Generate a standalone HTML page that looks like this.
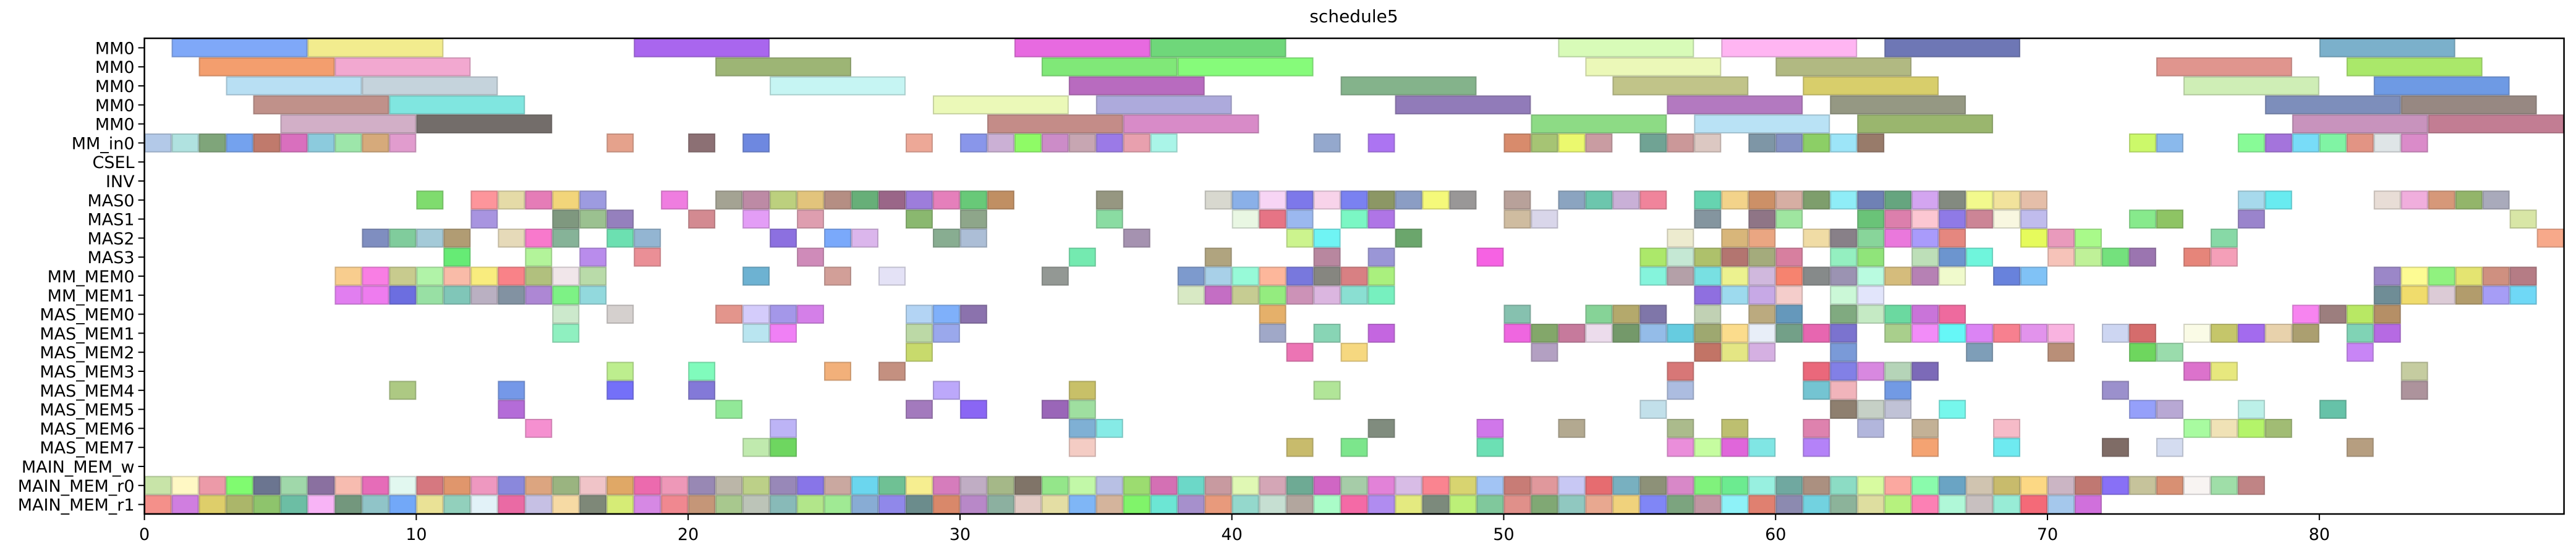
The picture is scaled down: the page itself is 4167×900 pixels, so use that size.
<!DOCTYPE html>
<html><head><meta charset="utf-8"><title>schedule5</title>
<style>
html,body{margin:0;padding:0;background:#fff;}
svg{display:block;font-family:"DejaVu Sans","Liberation Sans",sans-serif;}
</style></head>
<body>
<svg id="chart" width="4167" height="900" viewBox="0 0 4167 900" xmlns="http://www.w3.org/2000/svg">
<text x="2190" y="36" font-size="28" text-anchor="middle" fill="#000">schedule5</text>
<g id="bars"></g>
<g id="yaxis"></g>
<g id="xaxis"></g>
<rect x="233.6" y="62" width="3914" height="770" fill="none" stroke="#000" stroke-width="2.5"/>
</svg>
<script>
const rowNames = ["MM0","MM0","MM0","MM0","MM0","MM_in0","CSEL","INV","MAS0","MAS1","MAS2","MAS3","MM_MEM0","MM_MEM1","MAS_MEM0","MAS_MEM1","MAS_MEM2","MAS_MEM3","MAS_MEM4","MAS_MEM5","MAS_MEM6","MAS_MEM7","MAIN_MEM_w","MAIN_MEM_r0","MAIN_MEM_r1"];
const rowDurations = [5,5,5,5,5,1,1,1,1,1,1,1,1,1,1,1,1,1,1,1,1,1,1,1,1];
const xTicks = [0,10,20,30,40,50,60,70,80];
const xMax = 89;

const rowMM0a = [[1,'#7fa8f8'],[6,'#f2ec8e'],[18,'#a966ee'],[32,'#e76ae0'],[37,'#6fd77a'],[52,'#d8fbb8'],[58,'#ffb5f2'],[64,'#6e77b5'],[80,'#7bb0cb']];
const rowMM0b = [[2,'#f39e6e'],[7,'#f2a8d0'],[21,'#9db575'],[33,'#80e878'],[38,'#86fb7a'],[53,'#ebf8b8'],[60,'#b1b982'],[74,'#e0958e'],[81,'#aae86a']];
const rowMM0c = [[3,'#b8dff3'],[8,'#c5d3dc'],[23,'#c6f5f3'],[34,'#b86bbf'],[44,'#84b38b'],[54,'#c1c489'],[61,'#d8ce6b'],[75,'#cfeeb6'],[82,'#6e9ae4']];
const rowMM0d = [[4,'#c0918a'],[9,'#80e6e0'],[29,'#ebf9b8'],[35,'#adaadc'],[46,'#917bb9'],[56,'#b379c0'],[62,'#959883'],[78,'#7d8ebb'],[83,'#978882']];
const rowMM0e = [[5,'#d2afc7'],[10,'#736d6a'],[31,'#c48c88'],[36,'#d88bc8'],[51,'#8ddb85'],[57,'#b9e2f5'],[63,'#9ab66e'],[79,'#c893bd'],[84,'#c27d93']];
const rowMMin0 = [[0,'#b3c9e8'],[1,'#b0e2e0'],[2,'#7fa57a'],[3,'#74a2ee'],[4,'#c07a6c'],[5,'#d96fbe'],[6,'#8ccbdd'],[7,'#9de6aa'],[8,'#d6aa7b'],[9,'#e19cce'],[17,'#e5a28c'],[20,'#8c7074'],[22,'#6e88e0'],[28,'#eda897'],[30,'#8996ea'],[31,'#cbb0d5'],[32,'#8ffb66'],[33,'#cc8cc8'],[34,'#c7a6b2'],[35,'#9b7ae7'],[36,'#e8a0ae'],[37,'#aaf5e8'],[43,'#94a8cd'],[45,'#ac74f2'],[50,'#d88b6c'],[51,'#a6c474'],[52,'#ebf96e'],[53,'#c99ca2'],[55,'#70a394'],[56,'#cb9899'],[57,'#dcc8c2'],[59,'#7e96a6'],[60,'#8592c4'],[61,'#8ccf66'],[62,'#9de5f8'],[63,'#987b6a'],[73,'#ccf96a'],[74,'#8ab9ec'],[77,'#88fb97'],[78,'#a474dc'],[79,'#78dcf8'],[80,'#80f4a4'],[81,'#e29484'],[82,'#dfe5e7'],[83,'#da8bc9']];
const rowCSEL = [];
const rowINV = [];
const rowMAS0 = [[10,'#7fdc6e'],[12,'#fd959b'],[13,'#e5dba7'],[14,'#e57cb7'],[15,'#f2d57a'],[16,'#9d9be0'],[19,'#ef7de0'],[21,'#a4a393'],[22,'#bd8aa5'],[23,'#bcd07e'],[24,'#e2c47c'],[25,'#b58e83'],[26,'#67af78'],[27,'#9a6688'],[28,'#9d7ddb'],[29,'#e57fbb'],[30,'#68c978'],[31,'#c08f63'],[35,'#969781'],[39,'#d8d8cf'],[40,'#8ab0e8'],[41,'#f7d5f5'],[42,'#7d78ea'],[43,'#f8d3ea'],[44,'#7a81f1'],[45,'#8c9765'],[46,'#8b9dc4'],[47,'#f5f97a'],[48,'#999797'],[50,'#b8a19a'],[52,'#8ba4c0'],[53,'#6cc6ad'],[54,'#c9b0d7'],[55,'#f0849b'],[57,'#66d4b0'],[58,'#f3d38a'],[59,'#cc9067'],[60,'#d6aea3'],[61,'#7e9e6c'],[62,'#8fedf7'],[63,'#6f81b5'],[64,'#66a57f'],[65,'#d3a5f0'],[66,'#838a80'],[67,'#f2f98d'],[68,'#f2e39c'],[69,'#e5bea9'],[77,'#a7d9ec'],[78,'#68ebf0'],[82,'#e8ddd6'],[83,'#f0aedd'],[84,'#d69879'],[85,'#93b56a'],[86,'#a9aabb']];
const rowMAS1 = [[12,'#a894e0'],[15,'#7f987f'],[16,'#9bc190'],[17,'#9580bd'],[20,'#d38a91'],[22,'#e39df6'],[24,'#de9eaf'],[28,'#8ab86f'],[30,'#8ea68a'],[35,'#8adca2'],[40,'#e9f7e3'],[41,'#e67485'],[42,'#9bb8ef'],[44,'#7bf7c4'],[45,'#af75e6'],[50,'#cfbca0'],[51,'#d9d6ea'],[57,'#84959f'],[59,'#8f7586'],[60,'#9fe6a0'],[63,'#6ac378'],[64,'#dc7fac'],[65,'#fcc7d2'],[66,'#8f7ae6'],[67,'#cc8596'],[68,'#f8f7e0'],[69,'#c0bced'],[73,'#87ea8c'],[74,'#8ec464'],[77,'#9a84cc'],[87,'#d8e6a6']];
const rowMAS2 = [[8,'#7f8ec0'],[9,'#80cc9c'],[10,'#a4cad8'],[11,'#b19c73'],[13,'#e6dab9'],[14,'#f879cc'],[15,'#86b398'],[17,'#6ce0b1'],[18,'#93b5d2'],[23,'#8c70e0'],[25,'#7aa9fb'],[26,'#dbb6ec'],[29,'#88ad91'],[30,'#acbed6'],[36,'#a592b0'],[42,'#ccf48e'],[43,'#6ff4f4'],[46,'#6ba66c'],[56,'#edebcf'],[58,'#d8b67a'],[59,'#eaa682'],[61,'#f0dca5'],[62,'#888088'],[63,'#88d59a'],[64,'#ea78dc'],[65,'#a99bfb'],[66,'#e5877f'],[69,'#e6fb5c'],[70,'#e99abc'],[71,'#a9fa8a'],[76,'#87d9a6'],[88,'#f7a98a']];
const rowMAS3 = [[11,'#66eb75'],[14,'#b3f49a'],[16,'#b98cec'],[18,'#ea8f96'],[24,'#cf8bb9'],[34,'#74eab0'],[39,'#b0a47f'],[43,'#b8879f'],[45,'#9a96d6'],[49,'#f662e3'],[55,'#ace86a'],[56,'#c5e8d4'],[57,'#aec16b'],[58,'#b37570'],[59,'#a4ab7c'],[60,'#d77f9f'],[62,'#94efc0'],[63,'#90e47a'],[65,'#bddfb8'],[66,'#6c95cf'],[67,'#6ff5dc'],[70,'#f6c3b9'],[71,'#bff198'],[72,'#74e17d'],[73,'#9b75b0'],[75,'#e6857a'],[76,'#f49fb8']];
const rowMMMEM0 = [[7,'#f8cd8e'],[8,'#f97ee4'],[9,'#c8cb8e'],[10,'#b1f3a8'],[11,'#f9bba8'],[12,'#f9ec7e'],[13,'#f98288'],[14,'#b1c07e'],[15,'#f1e6ea'],[16,'#b9dba9'],[22,'#6db2d2'],[25,'#d29f98'],[27,'#e4e2f6'],[33,'#939894'],[38,'#7d9acd'],[39,'#a8d0e8'],[40,'#97fad8'],[41,'#fdb79b'],[42,'#7878dd'],[43,'#868680'],[44,'#d88083'],[45,'#aaf07e'],[55,'#85f4dc'],[56,'#b4a0a8'],[57,'#78e0e2'],[58,'#ecf28f'],[59,'#d0b8dd'],[60,'#f6836f'],[61,'#868a8a'],[62,'#9b93b2'],[63,'#b9fbe0'],[64,'#d5bc7c'],[65,'#b681b4'],[66,'#f0facc'],[68,'#6882dc'],[69,'#80c2f6'],[82,'#9b87c8'],[83,'#fdfb93'],[84,'#90f27f'],[85,'#e4e471'],[86,'#cf9080'],[87,'#b57c85']];
const rowMMMEM1 = [[7,'#e17ef0'],[8,'#ee7cef'],[9,'#6c6ee0'],[10,'#98e0a4'],[11,'#80c6b8'],[12,'#bab0c2'],[13,'#8292a2'],[14,'#ad87d4'],[15,'#7df285'],[16,'#92d9dd'],[38,'#d8e9c4'],[39,'#c46ec4'],[40,'#c6cc92'],[41,'#94ec7f'],[42,'#cc92b7'],[43,'#dbb6e0'],[44,'#8adfd2'],[45,'#77f0bf'],[57,'#8f6fe0'],[58,'#9ddaee'],[59,'#c7a9e6'],[60,'#f4cdcb'],[62,'#cbf8d7'],[63,'#e2e5fb'],[82,'#6f8d96'],[83,'#f0dc6c'],[84,'#dccbd6'],[85,'#b29c6c'],[86,'#a69df6'],[87,'#6fd8f6']];
const rowMASMEM0 = [[15,'#cce9cc'],[17,'#d5d0ce'],[21,'#e3958c'],[22,'#d4ccfb'],[23,'#a497e9'],[24,'#d47fe8'],[28,'#b3d4f4'],[29,'#7fb0fa'],[30,'#8b72ad'],[41,'#e5b06a'],[50,'#86c1af'],[53,'#86d397'],[54,'#b4a96c'],[55,'#7f76a9'],[57,'#c1d1b4'],[59,'#bbaa7f'],[60,'#6598bb'],[62,'#80aa80'],[63,'#c5eac4'],[64,'#6bd9a0'],[65,'#c974d9'],[66,'#ee6a9e'],[79,'#f784f0'],[80,'#9c7e7e'],[81,'#b8e864'],[82,'#b58f66']];
const rowMASMEM1 = [[15,'#8ff0c0'],[22,'#b9e5f0'],[23,'#f080f5'],[28,'#bcd9a6'],[29,'#9aa8ec'],[41,'#a0a8c8'],[43,'#88d5b5'],[45,'#c466e0'],[50,'#ef66e0'],[51,'#83a76a'],[52,'#c67a9c'],[53,'#ecdcec'],[54,'#74996a'],[55,'#94bce8'],[56,'#66cce0'],[57,'#9ea870'],[58,'#fbdc8c'],[59,'#e8eef8'],[60,'#73a088'],[61,'#e766b0'],[62,'#7b73cf'],[64,'#a9cf8c'],[65,'#f28cf8'],[66,'#66f7f7'],[67,'#db84f4'],[68,'#f7808f'],[69,'#e293ec'],[70,'#f9b3e0'],[72,'#cdd6f2'],[73,'#d56c6c'],[75,'#fafbe6'],[76,'#c5c66a'],[77,'#a36bee'],[78,'#e8d2ac'],[79,'#ab9f70'],[81,'#80d3b5'],[82,'#b66ae3']];
const rowMASMEM2 = [[28,'#c8da6c'],[42,'#ec74b4'],[44,'#f6d880'],[51,'#b3a0c2'],[57,'#c27466'],[58,'#e4e684'],[59,'#d5b0e2'],[62,'#7a9ad8'],[67,'#7e9eb8'],[70,'#b98f78'],[73,'#6ed65e'],[74,'#9adcac'],[81,'#c885f6']];
const rowMASMEM3 = [[17,'#bdee8e'],[20,'#80fbbc'],[25,'#f2b07a'],[27,'#c49080'],[56,'#d77777'],[61,'#ea687b'],[62,'#8280e6'],[63,'#d888e0'],[64,'#b5d4b8'],[65,'#7c6ab8'],[75,'#dc72cc'],[76,'#e7e87e'],[83,'#c5cca0']];
const rowMASMEM4 = [[9,'#adc983'],[13,'#7598e8'],[17,'#7470f8'],[20,'#8379d8'],[29,'#bca8fa'],[34,'#c8c068'],[43,'#b1e598'],[56,'#acbce0'],[61,'#74c4d2'],[62,'#f1b4bb'],[64,'#729ae4'],[72,'#9b90cc'],[83,'#ad939c']];
const rowMASMEM5 = [[13,'#b46cd8'],[21,'#92e898'],[28,'#a37abd'],[30,'#8a66f4'],[33,'#9a66b8'],[34,'#9fdfa0'],[55,'#c2e0ea'],[62,'#8e7f6f'],[63,'#c6d0c6'],[64,'#c0c2d6'],[66,'#76f7ec'],[73,'#95a0fa'],[74,'#b8a8d4'],[77,'#bcf0e8'],[80,'#66c2a8']];
const rowMASMEM6 = [[14,'#f590d0'],[23,'#bdb4f6'],[34,'#7fb0d4'],[35,'#86ebe6'],[45,'#808c7e'],[49,'#d077ea'],[52,'#b3a990'],[56,'#abbb8c'],[58,'#bdbf70'],[61,'#de82ae'],[63,'#b2b6dc'],[65,'#c3b196'],[68,'#f6bbc8'],[75,'#a8fba0'],[76,'#f0e2b6'],[77,'#b4f46a'],[78,'#a1bc74']];
const rowMASMEM7 = [[22,'#c0eaae'],[23,'#6ed660'],[34,'#f4ccc4'],[42,'#c8bb6c'],[44,'#7ce68c'],[49,'#6ce0b4'],[56,'#ea8eda'],[57,'#c6fda0'],[58,'#e066da'],[59,'#80e6e4'],[61,'#b482f8'],[65,'#f4a372'],[68,'#6eeaf0'],[72,'#7f6c66'],[74,'#d4dcf0'],[81,'#b69e80']];
const rowMAINMEMw = [];
const rowMAINMEMr0 = [[0,'#c8e4a8'],[1,'#fff8c4'],[2,'#ec9aa8'],[3,'#80fb70'],[4,'#6b7590'],[5,'#a0d8aa'],[6,'#8a70a0'],[7,'#f7bcb0'],[8,'#e66cb8'],[9,'#e2f8f0'],[10,'#d67880'],[11,'#e0966c'],[12,'#ee98c0'],[13,'#8a88dc'],[14,'#dca580'],[15,'#9ab480'],[16,'#f0c4c8'],[17,'#e0a866'],[18,'#ec6aae'],[19,'#ee98b8'],[20,'#9888b4'],[21,'#bbb6a8'],[22,'#bcd088'],[23,'#9888b8'],[24,'#8875e8'],[25,'#caa8a0'],[26,'#6bd6ee'],[27,'#6fc194'],[28,'#f6ee90'],[29,'#d67cbc'],[30,'#c0adc4'],[31,'#a5b888'],[32,'#807468'],[33,'#94e68a'],[34,'#c2f8a8'],[35,'#b8c0e4'],[36,'#9cdc70'],[37,'#d470b4'],[38,'#6cd8c8'],[39,'#c89aa0'],[40,'#e0f8b4'],[41,'#d4a6b6'],[42,'#6eaa94'],[43,'#d066c4'],[44,'#a6cca8'],[45,'#e282d8'],[46,'#d8bce6'],[47,'#fa8490'],[48,'#d8d470'],[49,'#a2c4f4'],[50,'#c87c76'],[51,'#e0989c'],[52,'#c8c8f4'],[53,'#e66c70'],[54,'#78b0c0'],[55,'#8d9178'],[56,'#d888c8'],[57,'#80f27c'],[58,'#6ceb90'],[59,'#98f0e0'],[60,'#70a8a0'],[61,'#ab9080'],[62,'#8cdcc4'],[63,'#d8fba0'],[64,'#fba8a0'],[65,'#8afbac'],[66,'#6aa4c4'],[67,'#d0c4b0'],[68,'#c8bb6c'],[69,'#fcd884'],[70,'#cbb5c4'],[71,'#c07872'],[72,'#8870f6'],[73,'#c6c39b'],[74,'#d89073'],[75,'#f8f4f2'],[76,'#9fdea8'],[77,'#c08485']];
const rowMAINMEMr1 = [[0,'#f4908a'],[1,'#d07ee0'],[2,'#dece6a'],[3,'#abb66a'],[4,'#8ec46c'],[5,'#6cbea4'],[6,'#f8b4f6'],[7,'#73977d'],[8,'#90c4c8'],[9,'#72a8f8'],[10,'#eae296'],[11,'#92d0bc'],[12,'#e2f2f8'],[13,'#ea6aa4'],[14,'#c6c0e4'],[15,'#f6daa4'],[16,'#7e8878'],[17,'#d6ec76'],[18,'#d688e4'],[19,'#f08890'],[20,'#c59678'],[21,'#a8c88e'],[22,'#bcc4b8'],[23,'#88bab8'],[24,'#b2e68a'],[25,'#a0ea94'],[26,'#88acd4'],[27,'#9088ea'],[28,'#6b8c8c'],[29,'#d9886a'],[30,'#b888c8'],[31,'#8cb0a0'],[32,'#e2cac4'],[33,'#e4dea4'],[34,'#7fb6f6'],[35,'#d4b49c'],[36,'#80f46a'],[37,'#6ce6d4'],[38,'#a690cc'],[39,'#e89a7c'],[40,'#94d8cc'],[41,'#c6dfd2'],[42,'#b2a69e'],[43,'#aafcc8'],[44,'#f46aa6'],[45,'#b08cf0'],[46,'#e4ea80'],[47,'#7c8a7c'],[48,'#bcf078'],[49,'#80c89c'],[50,'#e0908a'],[51,'#80a874'],[52,'#90c8c0'],[53,'#e8a890'],[54,'#f0d27c'],[55,'#8086f6'],[56,'#7ca47f'],[57,'#c096a2'],[58,'#8ef2f8'],[59,'#e08070'],[60,'#8c8ab0'],[61,'#72d2e0'],[62,'#8cb39a'],[63,'#dedea0'],[64,'#b6f27e'],[65,'#fc80b4'],[66,'#b0f8d8'],[67,'#c8c0c0'],[68,'#98ecd6'],[69,'#f46a78'],[70,'#a5c8ec'],[71,'#d070dc']];

const rowData = [rowMM0a,rowMM0b,rowMM0c,rowMM0d,rowMM0e,rowMMin0,rowCSEL,rowINV,rowMAS0,rowMAS1,rowMAS2,rowMAS3,rowMMMEM0,rowMMMEM1,rowMASMEM0,rowMASMEM1,rowMASMEM2,rowMASMEM3,rowMASMEM4,rowMASMEM5,rowMASMEM6,rowMASMEM7,rowMAINMEMw,rowMAINMEMr0,rowMAINMEMr1];

(function(){
  const NS = "http://www.w3.org/2000/svg";
  const L = 233.6, R = 4147.6, T = 62, B = 832;
  const nRows = rowNames.length;
  const pitch = (B - T) / nRows;
  const xScale = u => L + u * (R - L) / xMax;
  const yScale = i => T + i * pitch;
  function darken(hex, f){
    const n = parseInt(hex.slice(1),16);
    const r = Math.round(((n>>16)&255)*f), g = Math.round(((n>>8)&255)*f), b = Math.round((n&255)*f);
    return "rgb("+r+","+g+","+b+")";
  }
  const bars = document.getElementById("bars");
  rowData.forEach((row, i) => {
    row.forEach(([s, c]) => {
      const r = document.createElementNS(NS, "rect");
      const x0 = xScale(s), x1 = xScale(s + rowDurations[i]);
      r.setAttribute("x", x0 + 1);
      r.setAttribute("y", yScale(i) + 1);
      r.setAttribute("width", x1 - x0 - 2);
      r.setAttribute("height", pitch - 2);
      r.setAttribute("fill", c);
      r.setAttribute("stroke", darken(c, 0.8));
      r.setAttribute("stroke-opacity", "0.8");
      r.setAttribute("stroke-width", "2");
      
      
      bars.appendChild(r);
    });
  });
  const yaxis = document.getElementById("yaxis");
  rowNames.forEach((name, i) => {
    const cy = yScale(i) + pitch / 2;
    const tk = document.createElementNS(NS, "line");
    tk.setAttribute("x1", L - 10); tk.setAttribute("x2", L);
    tk.setAttribute("y1", cy); tk.setAttribute("y2", cy);
    tk.setAttribute("stroke", "#000"); tk.setAttribute("stroke-width", "2");
    
    
    yaxis.appendChild(tk);
    const t = document.createElementNS(NS, "text");
    t.setAttribute("x", L - 16); t.setAttribute("y", cy + 10);
    t.setAttribute("text-anchor", "end"); t.setAttribute("font-size", "27");
    t.textContent = name;
    
    
    yaxis.appendChild(t);
  });
  const xaxis = document.getElementById("xaxis");
  xTicks.forEach(v => {
    const x = xScale(v);
    const tk = document.createElementNS(NS, "line");
    tk.setAttribute("x1", x); tk.setAttribute("x2", x);
    tk.setAttribute("y1", B); tk.setAttribute("y2", B + 10);
    tk.setAttribute("stroke", "#000"); tk.setAttribute("stroke-width", "2");
    
    
    xaxis.appendChild(tk);
    const t = document.createElementNS(NS, "text");
    t.setAttribute("x", x); t.setAttribute("y", B + 42);
    t.setAttribute("text-anchor", "middle"); t.setAttribute("font-size", "27");
    t.textContent = String(v);
    
    
    xaxis.appendChild(t);
  });
})();
</script>
</body></html>
